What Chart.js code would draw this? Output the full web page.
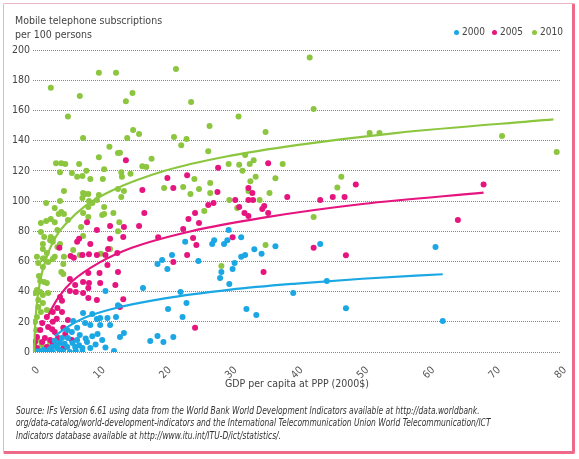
<!DOCTYPE html>
<html>
<head>
<meta charset="utf-8">
<script src="https://cdn.jsdelivr.net/npm/chart.js@4.4.1/dist/chart.umd.min.js"></script>
<style>
  body { margin: 0; background: #fff; }
  #wrap { position: relative; width: 579px; height: 459px; overflow: hidden;
          font-family: "Liberation Sans Narrow", "Arial Narrow", "DejaVu Sans Condensed", sans-serif; color: #444; }
  #frame { position: absolute; left: 3px; top: 3px; width: 568px; height: 447px;
           border-top: 1px solid #e9b5c3; border-left: 1px solid #e9b5c3;
           border-right: 3px solid #ee6a88; border-bottom: 3px solid #ee6a88; border-radius: 2px; }
  canvas { position: absolute; left: 0; top: 0; }
  #ytitle { position: absolute; left: 15px; top: 14px; font-size: 10.5px; line-height: 13.5px; }
  .leg { position: absolute; top: 26px; font-size: 10px; white-space: nowrap; }
  .leg i { position: absolute; left: -8px; top: 4px; width: 5px; height: 5px; border-radius: 50%; }
  #xtitle { position: absolute; left: 0; width: 594px; text-align: center; top: 377px; font-size: 10.5px; }
  #source { position: absolute; left: 16px; top: 404.5px; font-size: 9.8px; line-height: 12.5px; font-style: italic; color: #333;
            white-space: nowrap; transform: scaleX(0.855); transform-origin: 0 0; }
</style>
</head>
<body>
<div id="wrap">
  <div id="frame"></div>
  <canvas id="chart" width="579" height="459"></canvas>
  <div id="ytitle">Mobile telephone subscriptions<br>per 100 persons</div>
  <div id="legend"></div>
  <div id="xtitle">GDP per capita at PPP (2000$)</div>
  <div id="source">Source: IFs Version 6.61 using data from the World Bank World Development Indicators available at http://data.worldbank.<br>org/data-catalog/world-development-indicators and the International Telecommunication Union World Telecommunication/ICT<br>Indicators database available at http://www.itu.int/ITU-D/ict/statistics/.</div>
</div>
<script>
// series labels and colours
const years = ['2000', '2005', '2010'];
const colors = ['#1aa7e4', '#e5147e', '#8cc63f'];

// axis ticks
const xTicks = [0, 10, 20, 30, 40, 50, 60, 70, 80];
const yTicks = [0, 20, 40, 60, 80, 100, 120, 140, 160, 180, 200];

// [GDP per capita (000 2000$), subscriptions per 100]
const pts2000 = [
  [29.7,80.8],[31.6,76],[27.5,74],[27.2,71.5],[29,71.5],[29.5,74],[33.6,68],[36.8,70],[43.6,71.5],
  [32.2,64.2],[31.6,63],[34.7,65],[25.1,60.3],[30.6,59],[30.3,55],[28.6,53],[28.4,49],[29.8,45],
  [44.6,47],[39.5,39],[32.4,28.5],[33.9,24.5],[47.5,29],[61.1,69.5],[62.2,20.5],
  [11,40.4],[16.7,42.4],[18.9,58.3],[19.6,61],[21.1,64.2],[20.4,55],[23.1,73],[22.4,39.7],
  [20.5,28.5],[23.3,32.5],[22.7,23.2],[21.3,10],[17.8,7.3],[18.9,10.6],[19.8,6.6],
  [12.9,31],[12.6,23.2],[11.3,22.5],[10.2,22.5],[9,25.2],[9.7,21.8],[7.6,25.8],[7.9,19.2],
  [8.7,17.9],[10.2,17.9],[11.7,17.9],[13.8,12.6],[13.2,10],[12.3,0.7],[6.1,20.5],[6.7,16],
  [5.9,13.2],[5.2,14.6],[7.1,11.3],[6.7,8],[8.2,6.6],[8.7,2.6],[7.5,2.6],[6.4,3.3],[5.2,3.3],
  [4.1,6],[5.3,9.3],[4.4,9.3],[3.7,2.6],[3,0],[2.1,0],[5.6,0],[7.5,0],[2.9,3.3],
  [1,0.5],[1.6,1.5],[2.5,1.8],[4.5,0.5],[6.5,0.8],[9.5,5],[10.5,8],[9.8,12],[11,3],[4.8,5.5],
  [3.5,4.5],[6,6],[7,4.5],[8,9],[9,10.5],[0.5,0.3],[4,1.5],[3.3,7.5]
];
const pts2005 = [
  [14.1,127],[28.1,122],[35.7,125],[49,111],[32.7,108.6],[28,106],[33.3,105.3],[38.6,102.6],
  [43.6,100.7],[45.5,102.6],[47.3,102.6],[30.7,100.7],[32.7,100.7],[33.4,100.7],[27.4,98.7],
  [26.6,97.4],[24.6,92],[31.3,96],[35.1,96.7],[34.8,94.7],[32.1,92],[32.7,90],[35.7,92],
  [25.2,85.4],[24.3,75.5],[24.8,70.9],[30.3,76],[42.6,69],[47.5,64],[35,53],[24.6,16],
  [68.4,111],[64.5,87.4],
  [16.6,107.3],[8.2,86],[16.9,92],[9.7,80.8],[11.7,83.4],[13.8,82.8],[16.1,83.4],[11.7,75],
  [7,75],[13.7,76.2],[20.4,115.2],[21.3,108.6],[23.4,117],[23.6,88],[22.8,81.5],[19,76],
  [8.7,71.5],[4,69],[11.4,68.2],[6.2,62.5],
  [6.7,73],[5.7,63.6],[7.5,64.2],[8.5,64.8],[9.7,64.2],[11,64.2],[11.3,57.6],[12.8,65.6],
  [12.9,53],[12.5,44.4],[10.1,52.3],[8.4,52.3],[7.6,46.4],[8.5,45.7],[10.2,45.7],[5.6,48.3],
  [6.4,44.4],[5.6,40.4],[6.5,39.7],[7.6,39],[8.4,35.8],[9.7,34.4],[13.7,35],[13.2,29.8],
  [4.1,36.4],[3.7,29.1],[4.4,26.5],[3,26.5],[2.1,23.2],[3,20],[1.4,19.2],[5.3,21.2],[1.1,14.6],
  [2.3,16.6],[3.3,13.2],[4.6,16],[0.6,10],[1.8,9.3],[2.6,8],[1.4,6.6],[0.3,6.6],[2.1,3.3],
  [3,6],[3.8,9.3],[0.6,2.6],[1.4,0],[4.6,2.6],[21.3,59.6],[23.4,64.2],[8.4,42.4],[4.4,34],
  [3.6,22],[4.9,12],[5.9,8],[2.9,15]
];
const pts2010 = [
  [2.7,175],[5.3,156],[7.1,169.5],[10,185],[12.6,185],[14.1,166],[15.1,171.5],[21.7,187.5],
  [24,165.5],[31.2,156],[42,195],[42.6,161],
  [15.2,147],[16.1,144.4],[14.3,141.7],[26.8,149.7],[35.3,145.7],[21.4,142.4],[23.3,141],
  [22.5,137],[26.6,133],[32.2,130.5],[33.5,127],[32.9,124.5],[31.3,124],[29.7,124.5],[18,128],
  [16.6,123],[17.2,122.5],[37.9,124.5],[13.2,132],
  [51.1,145],[52.6,145],[31.8,120],[24.5,114.6],[26.9,112],[33,113],[33.8,116],[36.8,115],
  [25.2,108],[26.9,105.3],[32.7,106.6],[35.9,105.3],[23.9,104.6],[46.8,116],[46.2,109],
  [29.8,100.7],[34.4,100.7],[31,95.4],[26,93.4],[42.6,89.4],[35.3,70.9],[28.6,57],
  [71.2,143],[79.5,132.5],
  [7.6,141.7],[10,129],[11.6,136],[12.9,131.8],[10.8,121],[3.5,125],[4.3,125],[4.9,124.5],
  [4.1,119],[5.9,118.5],[7,124.5],[6.7,116],[7.5,116.6],[8.1,120],[10.6,114.6],[13.4,119],
  [13.5,116],[14.8,118],[8.7,114.6],
  [4.7,106.6],[2,98.7],[7.6,105.3],[7.9,104.6],[8.4,104.6],[7.5,102],[8.5,100],[9.7,100.7],
  [9,98.7],[10,104],[12.9,108],[13.8,106.6],[13.4,102.6],[19.9,108.6],[22.8,109.3],
  [4.1,100],[8.4,96],[7.6,92],[8.4,89.4],[10.8,91.4],[12.2,92],[13.1,86],[7.3,82.8],[3.3,95.4],
  [4.3,92.7],[4.7,91.4],[3.9,91.4],[2.7,88],[3.3,86],[1.2,85.4],[2,86.8],[1.2,79.5],[1.7,76.2],
  [2.7,76.2],[3,75],[5.3,87.4],[3.7,80.8],[12.9,80],[10.8,96],[2.6,74],[7.6,76.8],[10.5,90.7],
  [1.5,68.2],[1.7,62],[3.3,63],[3.7,69.5],[4.7,63],
  [1.5,71.5],[3,73],[4.1,71.5],[6.1,67.5],[7.1,64.2],[10.3,65],[11.7,68.2],[0.6,63],[1.5,62],
  [2.1,65.6],[0.8,59],[1.5,56.3],[2.3,59.6],[3,61.6],[4.6,58.3],[4.3,53],[4.6,51.7],[0.9,50.3],
  [1.1,47],[1.7,46.4],[2.1,45.7],[0.6,41],[1.1,39.7],[0.3,39],[1.5,37.7],[2.3,39],[0.8,34.4],
  [1.5,32.5],[0.8,29.8],[1.2,26.5],[0.6,23.2],[2.1,27.8],[0.3,20],[0.5,14.6],[0.6,8],[0.9,1.3],
  [0.2,4],[2.6,27],[1.3,5],[2.6,6],[4.6,2]
];

// trend curves, points
const trend2000 = [[3.3,10.5],[5,16],[8,23],[12,28.5],[20,35.5],[30,41.3],[40,45.3],[50,48.5],[62.2,51.5]];
const trend2005 = [[2.2,23],[3,30],[4,37],[6,47],[10,59],[15,69],[24,80],[35,89],[50,98],[68.4,105.5]];
const trend2010 = [[0.17,0],[0.3,15],[0.5,28],[1,45],[2,62],[3.3,75],[5,85],[8,97],[12,107],[20,120],[30,130],[40,137],[55,145],[79,154]];

// legend text start positions (px)
const legendX = [462, 500, 540];

const FONT = '"Liberation Sans Narrow", "Arial Narrow", "DejaVu Sans Condensed", sans-serif';
const toXY = arr => arr.map(p => ({ x: p[0], y: p[1] }));

// html legend
document.getElementById('legend').innerHTML = years.map((y, i) =>
  `<div class="leg" style="left:${legendX[i]}px"><i style="background:${colors[i]}"></i>${y}</div>`).join('');

const pointSets = [pts2000, pts2005, pts2010];
const trendSets = [trend2000, trend2005, trend2010];
const datasets = [];

trendSets.forEach((t, i) => {
  datasets.push({
    type: 'line',
    label: years[i] + ' trend',
    data: toXY(t),
    borderColor: colors[i],
    borderWidth: 2.2,
    pointRadius: 0,
    fill: false,
    cubicInterpolationMode: 'monotone',
    order: 0
  });
});
pointSets.forEach((p, i) => {
  datasets.push({
    type: 'scatter',
    label: years[i],
    data: toXY(p),
    backgroundColor: colors[i],
    borderWidth: 0,
    pointRadius: 3,
    order: i + 1
  });
});

new Chart(document.getElementById('chart'), {
  type: 'scatter',
  data: { datasets },
  options: {
    responsive: false,
    animation: false,
    layout: { padding: { left: 0, top: 50, right: 19, bottom: 67 } },
    plugins: { legend: { display: false }, tooltip: { enabled: false } },
    scales: {
      x: {
        type: 'linear', min: 0, max: 80,
        afterFit: s => { s.height = 40; },
        afterBuildTicks: s => { s.ticks = xTicks.map(v => ({ value: v })); },
        ticks: { minRotation: 45, maxRotation: 45, labelOffset: 5, padding: 4, color: '#555',
                 font: { family: FONT, size: 10.5 } },
        grid: { display: false },
        border: { display: false }
      },
      y: {
        type: 'linear', min: 0, max: 200,
        afterFit: s => { s.width = 33; },
        afterBuildTicks: s => { s.ticks = yTicks.map(v => ({ value: v })); },
        ticks: { padding: 3, color: '#444', font: { family: FONT, size: 10.5 } },
        grid: { color: '#858585', lineWidth: 1, drawTicks: false },
        border: { display: false, dash: [1, 1] }
      }
    }
  }
});
</script>
</body>
</html>
